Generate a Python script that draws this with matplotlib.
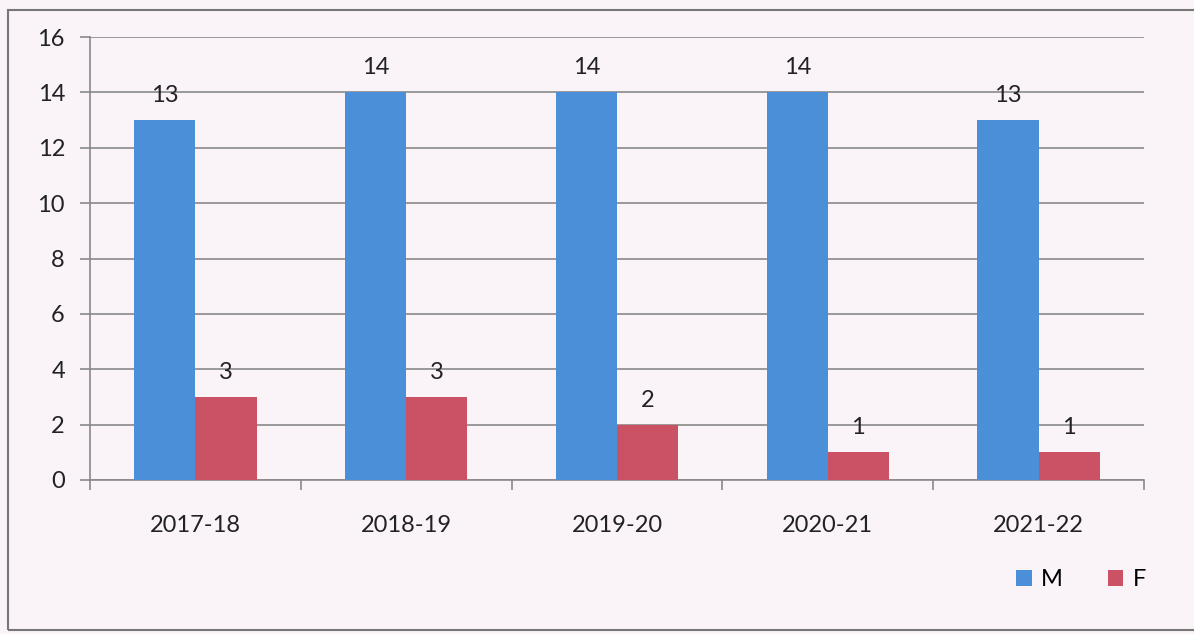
import matplotlib
matplotlib.use("Agg")
import matplotlib.pyplot as plt
import numpy as np
from matplotlib.patches import Rectangle

categories = ["2017-18", "2018-19", "2019-20", "2020-21", "2021-22"]
male = [13, 14, 14, 14, 13]
female = [3, 3, 2, 1, 1]
series_names = ["M", "F"]
y_ticks = [0, 2, 4, 6, 8, 10, 12, 14, 16]

BLUE = "#4A8FD8"
RED = "#CB5264"
BG = "#FAF4F9"
GRID = "#8a8a8a"

plt.rcParams["font.family"] = ["Lato", "DejaVu Sans"]
FS = 17

fig = plt.figure(figsize=(11.94, 6.34), dpi=100, facecolor=BG)
ax = fig.add_axes([90/1194, 1 - 480/634, (1144-90)/1194, (480-37)/634])
ax.set_facecolor(BG)

x = np.arange(len(categories))
w = 0.29
b1 = ax.bar(x - w/2, male, w, color=BLUE, label=series_names[0], zorder=3)
b2 = ax.bar(x + w/2, female, w, color=RED, label=series_names[1], zorder=3)

for bars in (b1, b2):
    for r in bars:
        ax.annotate(f"{int(r.get_height())}", (r.get_x() + r.get_width()/2, r.get_height()),
                    xytext=(0, 10), textcoords="offset points", ha="center", va="bottom",
                    fontsize=FS, color="#222222", zorder=4)

ax.set_xlim(-0.5, len(categories) - 0.5)
ax.set_ylim(0, 16)
ax.set_yticks(y_ticks)
ax.set_yticklabels([str(v) for v in y_ticks], fontsize=FS, color="#222222")
ax.set_xticks(x)
ax.set_xticklabels(categories, fontsize=FS, color="#222222")
ax.tick_params(axis="x", length=0, pad=25)
ax.set_xticks(np.arange(-0.5, len(categories)), minor=True)
ax.tick_params(axis="x", which="minor", length=7, direction="out", color=GRID, width=1.2)
ax.tick_params(axis="y", length=7, direction="out", color=GRID, width=1.2, pad=11)

ax.yaxis.grid(True, color=GRID, linewidth=1.2, zorder=0)
ax.set_axisbelow(True)
for s in ("top", "right"):
    ax.spines[s].set_visible(False)
for s in ("left", "bottom"):
    ax.spines[s].set_color(GRID)
    ax.spines[s].set_linewidth(1.2)

leg = fig.legend(handles=[b1, b2], labels=series_names, loc="center left",
                 bbox_to_anchor=(995/1194, 1 - 580/634), ncol=2, frameon=False,
                 fontsize=FS, handlelength=0.65, handleheight=0.65, handletextpad=0.4,
                 columnspacing=1.9)

fig.patches.append(Rectangle((8/1194, 4/634), 1.1, (630-4-6)/634, transform=fig.transFigure,
                             fill=False, edgecolor="#777777", linewidth=1.5))

fig.savefig("out.png", dpi=100, facecolor=BG)
